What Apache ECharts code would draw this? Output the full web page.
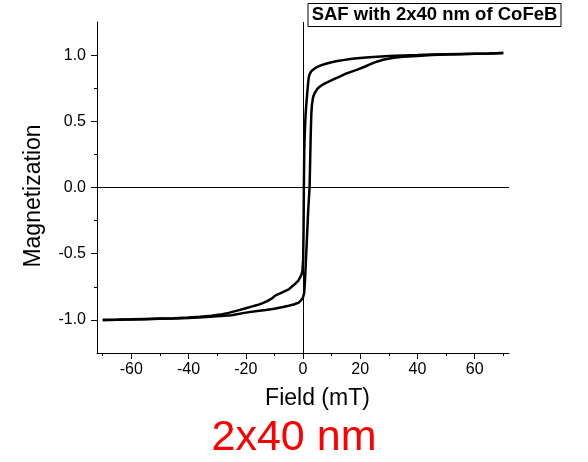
<!DOCTYPE html>
<html>
<head>
<meta charset="utf-8">
<script src="https://cdn.jsdelivr.net/npm/echarts@6/dist/echarts.min.js"></script>
<style>
html,body{margin:0;padding:0;background:#fff;}
#chart{width:588px;height:462px;}
</style>
</head>
<body>
<div id="chart"></div>
<script>
// Descending branch (field swept from +70 to -70 mT)
const descField = [70,65,60,55,50,45,40,35,30,26,22,19,16.6,14,12,10,8,6,4.5,3.5,2.8,2.3,2.0,1.8,1.5,1.2,0.9,0.6,0.45,0.3,0.2,0.05,-0.2,-0.5,-0.9,-1.7,-2.6,-4,-5,-6.5,-8,-9.6,-11,-12.5,-14.3,-16,-18,-20,-23,-26,-29,-32,-36,-40,-45,-50,-55,-60,-65,-70];
const descMag = [1.015,1.012,1.01,1.008,1.006,1.004,1.0,0.997,0.993,0.988,0.982,0.976,0.97,0.962,0.955,0.946,0.935,0.92,0.905,0.89,0.875,0.855,0.83,0.79,0.72,0.64,0.55,0.4,0.28,0.0,-0.32,-0.55,-0.63,-0.655,-0.675,-0.705,-0.725,-0.75,-0.77,-0.785,-0.80,-0.815,-0.84,-0.858,-0.875,-0.888,-0.9,-0.912,-0.93,-0.947,-0.96,-0.968,-0.976,-0.982,-0.987,-0.99,-0.993,-0.996,-0.998,-1.0];
// Ascending branch (field swept from -70 to +70 mT)
const ascField = [-70,-65,-60,-55,-50,-45,-40,-35,-30,-25,-20,-16,-13,-10,-7,-5,-3,-1.5,-0.6,0.0,0.4,0.7,1.0,1.3,1.8,2.3,2.5,2.7,2.9,3.1,3.5,4.0,5.0,6.0,7.5,9,11,13,15,17,19,21.3,24,26,28,31.7,35,40,45,50,55,60,65,70];
const ascMag = [-1.0,-0.999,-0.997,-0.995,-0.992,-0.99,-0.986,-0.98,-0.973,-0.965,-0.945,-0.933,-0.925,-0.915,-0.903,-0.893,-0.882,-0.87,-0.85,-0.83,-0.80,-0.70,-0.56,-0.42,-0.18,0.0,0.2,0.4,0.55,0.62,0.68,0.71,0.745,0.765,0.785,0.80,0.82,0.84,0.86,0.875,0.89,0.91,0.935,0.952,0.965,0.98,0.988,0.994,1.0,1.004,1.007,1.01,1.012,1.015];

const xMajorTicks = [-60,-40,-20,0,20,40,60];
const xMinorTicks = [-70,-50,-30,-10,10,30,50,70];
const yMajorTicks = [-1.0,-0.5,0.0,0.5,1.0];
const yMinorTicks = [-0.75,-0.25,0.25,0.75];

const titleText = 'SAF with 2x40 nm of CoFeB';
const xName = 'Field (mT)';
const yName = 'Magnetization';
const captionText = '2x40 nm';

const FONT = '"Liberation Sans", Arial, sans-serif';

const descData = descField.map((f,i)=>[f, descMag[i]]);
const ascData = ascField.map((f,i)=>[f, ascMag[i]]);

const chart = echarts.init(document.getElementById('chart'), null, {renderer:'canvas'});

const axisBase = {
  type:'value', min:-72, max:72,
  splitLine:{show:false}
};

chart.setOption({
  animation:false,
  backgroundColor:'#fff',
  grid:{left:97, right:79, top:22, bottom:109, containLabel:false},
  xAxis:[
    Object.assign({}, axisBase, {
      position:'bottom',
      axisLine:{show:true, onZero:false, lineStyle:{color:'#000', width:1}},
      axisTick:{show:true, inside:false, length:6, customValues:xMajorTicks, lineStyle:{color:'#000'}},
      axisLabel:{show:true, customValues:xMajorTicks, fontSize:16, color:'#000', fontFamily:FONT, margin:9}
    }),
    Object.assign({}, axisBase, {
      position:'bottom',
      axisLine:{show:false, onZero:false},
      axisTick:{show:true, inside:false, length:3, customValues:xMinorTicks, lineStyle:{color:'#000'}},
      axisLabel:{show:false}
    })
  ],
  yAxis:[
    {
      type:'value', min:-1.25, max:1.25, position:'left',
      splitLine:{show:false},
      axisLine:{show:true, onZero:false, lineStyle:{color:'#000', width:1}},
      axisTick:{show:true, inside:false, length:6, customValues:yMajorTicks, lineStyle:{color:'#000'}},
      axisLabel:{show:true, customValues:yMajorTicks, fontSize:16, color:'#000', fontFamily:FONT, margin:11,
        formatter:(v)=>v.toFixed(1)}
    },
    {
      type:'value', min:-1.25, max:1.25, position:'left',
      splitLine:{show:false},
      axisLine:{show:false, onZero:false},
      axisTick:{show:true, inside:false, length:3, customValues:yMinorTicks, lineStyle:{color:'#000'}},
      axisLabel:{show:false}
    }
  ],
  series:[
    {
      type:'line', name:'descending', data:descData, xAxisIndex:0, yAxisIndex:0,
      showSymbol:false, symbol:'none', smooth:false,
      lineStyle:{color:'#000', width:2.5}, z:3,
      markLine:{
        silent:true, symbol:['none','none'], animation:false,
        label:{show:false},
        lineStyle:{color:'#000', width:1, type:'solid'},
        data:[{xAxis:0},{yAxis:0}]
      }
    },
    {
      type:'line', name:'ascending', data:ascData, xAxisIndex:0, yAxisIndex:0,
      showSymbol:false, symbol:'none', smooth:false,
      lineStyle:{color:'#000', width:2.5}, z:3
    }
  ],
  graphic:[
    {type:'rect', shape:{x:308, y:3.5, width:253, height:23}, style:{fill:'#fff', stroke:'#000', lineWidth:1}, z:10},
    {type:'text', x:434.5, y:15, z:11, style:{text:titleText, font:'bold 18.5px '+FONT, fill:'#000', textAlign:'center', textVerticalAlign:'middle'}},
    {type:'text', x:317.5, y:398.5, style:{text:xName, font:'23px '+FONT, fill:'#000', textAlign:'center', textVerticalAlign:'middle'}},
    {type:'text', x:33.5, y:196, rotation:Math.PI/2, style:{text:yName, font:'23px '+FONT, fill:'#000', textAlign:'center', textVerticalAlign:'middle'}},
    {type:'text', x:294, y:438, style:{text:captionText, font:'43px '+FONT, fill:'#ff0000', textAlign:'center', textVerticalAlign:'middle'}}
  ]
});
</script>
</body>
</html>
